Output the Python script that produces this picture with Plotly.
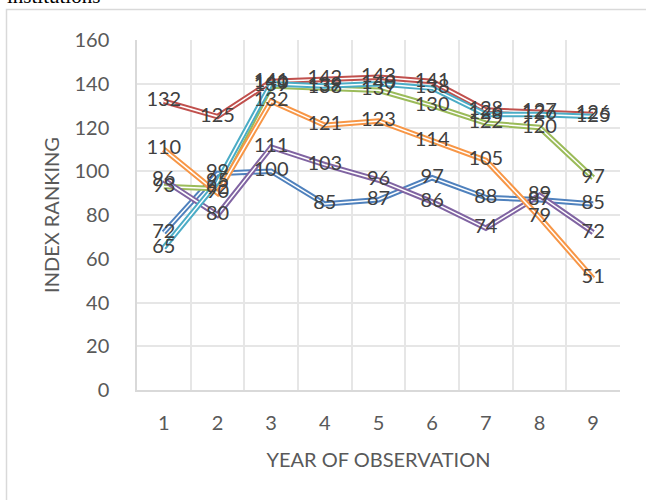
import plotly.graph_objects as go

years = [1, 2, 3, 4, 5, 6, 7, 8, 9]
year_labels = ["1", "2", "3", "4", "5", "6", "7", "8", "9"]

series_blue = [72, 99, 100, 85, 87, 97, 88, 87, 85]
series_red = [132, 125, 141, 142, 143, 141, 128, 127, 126]
series_green = [93, 92, 139, 138, 137, 130, 122, 120, 97]
series_purple = [96, 80, 111, 103, 96, 86, 74, 89, 72]
series_aqua = [65, 95, 140, 139, 140, 138, 126, 126, 125]
series_orange = [110, 90, 132, 121, 123, 114, 105, 79, 51]

y_ticks = [0, 20, 40, 60, 80, 100, 120, 140, 160]

series = [
    ("Series1", series_blue, "#4F81BD"),
    ("Series2", series_red, "#C0504D"),
    ("Series3", series_green, "#9BBB59"),
    ("Series4", series_purple, "#8064A2"),
    ("Series5", series_aqua, "#4BACC6"),
    ("Series6", series_orange, "#F79646"),
]

fig = go.Figure()

for name, vals, col in series:
    fig.add_trace(go.Scatter(x=years, y=vals, mode="lines", name=name,
                             line=dict(color=col, width=5.5), hoverinfo="skip",
                             showlegend=False))
    fig.add_trace(go.Scatter(x=years, y=vals, mode="lines",
                             line=dict(color="white", width=1.5), hoverinfo="skip",
                             showlegend=False))

for name, vals, col in series:
    fig.add_trace(go.Scatter(x=years, y=vals, mode="text",
                             text=[str(v) for v in vals],
                             textposition="middle center",
                             textfont=dict(family="Lato", size=20, color="#404040"),
                             showlegend=False, hoverinfo="skip"))

L, R, T, B = 137, 26, 40, 110
W, H = 646, 500
pw, ph = W - L - R, H - T - B

def px_x(p):
    return (p - L) / pw

def px_y(p):
    return (H - B - p) / ph

fig.add_shape(type="rect", xref="paper", yref="paper",
              x0=px_x(6.5), x1=px_x(700), y0=px_y(560), y1=px_y(9.5),
              line=dict(color="#d9d9d9", width=1.5), fillcolor="rgba(0,0,0,0)",
              layer="below")

fig.add_annotation(text="institutions", xref="paper", yref="paper",
                   x=px_x(5), y=px_y(-4), xanchor="left", yanchor="middle",
                   showarrow=False,
                   font=dict(family="Liberation Serif", size=21, color="#000000"))

fig.update_layout(
    width=W, height=H, autosize=False,
    margin=dict(l=L, r=R, t=T, b=B),
    paper_bgcolor="white", plot_bgcolor="white",
    font=dict(family="Lato", color="#595959", size=20),
    xaxis=dict(
        range=[0.5, 9.5], tickvals=years, ticktext=year_labels,
        showgrid=False, zeroline=False, showline=True,
        linecolor="#d9d9d9", linewidth=1.5, ticks="",
        tickfont=dict(family="Lato", size=20, color="#595959"),
        ticklabelstandoff=14,
        minor=dict(tickvals=[0.5 + i for i in range(10)], showgrid=True,
                   gridcolor="#e6e6e6", gridwidth=1.5, ticks=""),
        title=dict(text="YEAR OF OBSERVATION", standoff=20,
                   font=dict(family="Lato", size=20, color="#595959")),
    ),
    yaxis=dict(
        range=[0, 160], tickvals=y_ticks, ticktext=[str(v) for v in y_ticks],
        showgrid=True, gridcolor="#e6e6e6", gridwidth=1.5,
        zeroline=False, showline=True, linecolor="#d9d9d9", linewidth=1.5,
        ticks="", ticklabelstandoff=22,
        tickfont=dict(family="Lato", size=20, color="#595959"),
        title=dict(text="INDEX RANKING", standoff=9,
                   font=dict(family="Lato", size=20, color="#595959")),
    ),
)

fig.write_html("out.html", config={"displayModeBar": False},
               post_script="document.body.style.margin='0px';")
